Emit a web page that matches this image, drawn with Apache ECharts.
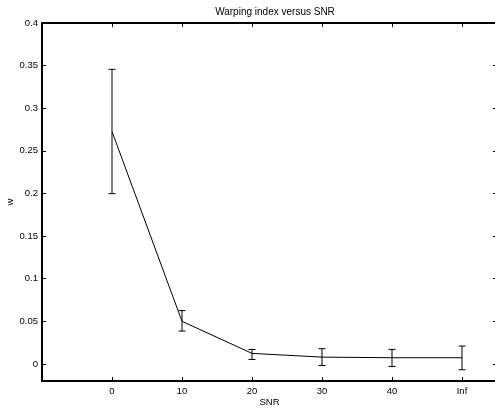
<!DOCTYPE html>
<html>
<head>
<meta charset="utf-8">
<script src="https://cdn.jsdelivr.net/npm/echarts@6/dist/echarts.min.js"></script>
<style>
  html, body { margin: 0; padding: 0; background: #fff; }
  #chart { width: 495px; height: 408px; }
</style>
</head>
<body>
<div id="chart"></div>
<script>
// values
const snrLabels = ['0', '10', '20', '30', '40', 'Inf'];
const snrPos = [1, 2, 3, 4, 5, 6];
const wMean = [0.2727, 0.05, 0.0124, 0.008, 0.0073, 0.0073];
const wLower = [0.1998, 0.0386, 0.0053, -0.0018, -0.003, -0.0068];
const wUpper = [0.3456, 0.0626, 0.017, 0.0179, 0.017, 0.021];
const yTicks = [0, 0.05, 0.1, 0.15, 0.2, 0.25, 0.3, 0.35, 0.4];

const font = 'Liberation Sans, Arial, sans-serif';
const frame = { show: true, onZero: false, lineStyle: { color: '#000', width: 2 } };
const tickIn = { show: true, inside: true, length: 4, lineStyle: { color: '#000', width: 1 } };

const chart = echarts.init(document.getElementById('chart'));

chart.setOption({
  animation: false,
  title: {
    text: 'Warping index versus SNR',
    left: 270,
    textAlign: 'center',
    top: 2,
    textStyle: { fontFamily: font, fontSize: 10, fontWeight: 'normal', color: '#000' },
  },
  grid: { left: 42, top: 23, width: 455, height: 358, outerBoundsMode: 'none', containLabel: false },
  xAxis: [
    {
      type: 'value',
      min: 0,
      max: 6.5,
      axisLine: frame,
      axisTick: Object.assign({ customValues: snrPos }, tickIn),
      axisLabel: {
        customValues: snrPos,
        formatter: v => snrLabels[snrPos.indexOf(v)],
        color: '#000',
        fontFamily: font,
        fontSize: 9.5,
        margin: 5,
      },
      splitLine: { show: false },
      name: 'SNR',
      nameLocation: 'middle',
      nameGap: 16,
      nameMoveOverlap: false,
      nameTextStyle: { fontFamily: font, fontSize: 9.5, color: '#000' },
    },
    {
      type: 'value',
      position: 'top',
      min: 0,
      max: 6.5,
      axisLine: frame,
      axisTick: Object.assign({ customValues: snrPos }, tickIn),
      axisLabel: { show: false },
      splitLine: { show: false },
    },
  ],
  yAxis: [
    {
      type: 'value',
      min: -0.02,
      max: 0.4,
      axisLine: frame,
      axisTick: Object.assign({ customValues: yTicks }, tickIn),
      axisLabel: {
        customValues: yTicks,
        formatter: v => String(+v.toFixed(2)),
        color: '#000',
        fontFamily: font,
        fontSize: 9.5,
        margin: 4,
      },
      splitLine: { show: false },
      name: 'w',
      nameLocation: 'middle',
      nameGap: 27,
      nameMoveOverlap: false,
      nameTextStyle: { fontFamily: font, fontSize: 9.5, color: '#000' },
    },
    {
      type: 'value',
      position: 'right',
      min: -0.02,
      max: 0.4,
      axisLine: frame,
      axisTick: Object.assign({ customValues: yTicks }, tickIn),
      axisLabel: { show: false },
      splitLine: { show: false },
    },
  ],
  series: [
    {
      type: 'line',
      data: snrPos.map((x, i) => [x, wMean[i]]),
      symbol: 'none',
      lineStyle: { color: '#000', width: 1 },
    },
    {
      type: 'custom',
      data: snrPos.map((x, i) => [x, wLower[i], wUpper[i]]),
      renderItem: (params, api) => {
        const lo = api.coord([api.value(0), api.value(1)]);
        const hi = api.coord([api.value(0), api.value(2)]);
        const half = 3.5;
        const style = { stroke: '#000', lineWidth: 1 };
        return {
          type: 'group',
          children: [
            { type: 'line', shape: { x1: lo[0], y1: lo[1], x2: hi[0], y2: hi[1] }, style },
            { type: 'line', shape: { x1: lo[0] - half, y1: lo[1], x2: lo[0] + half, y2: lo[1] }, style },
            { type: 'line', shape: { x1: hi[0] - half, y1: hi[1], x2: hi[0] + half, y2: hi[1] }, style },
          ],
        };
      },
    },
  ],
});
</script>
</body>
</html>
